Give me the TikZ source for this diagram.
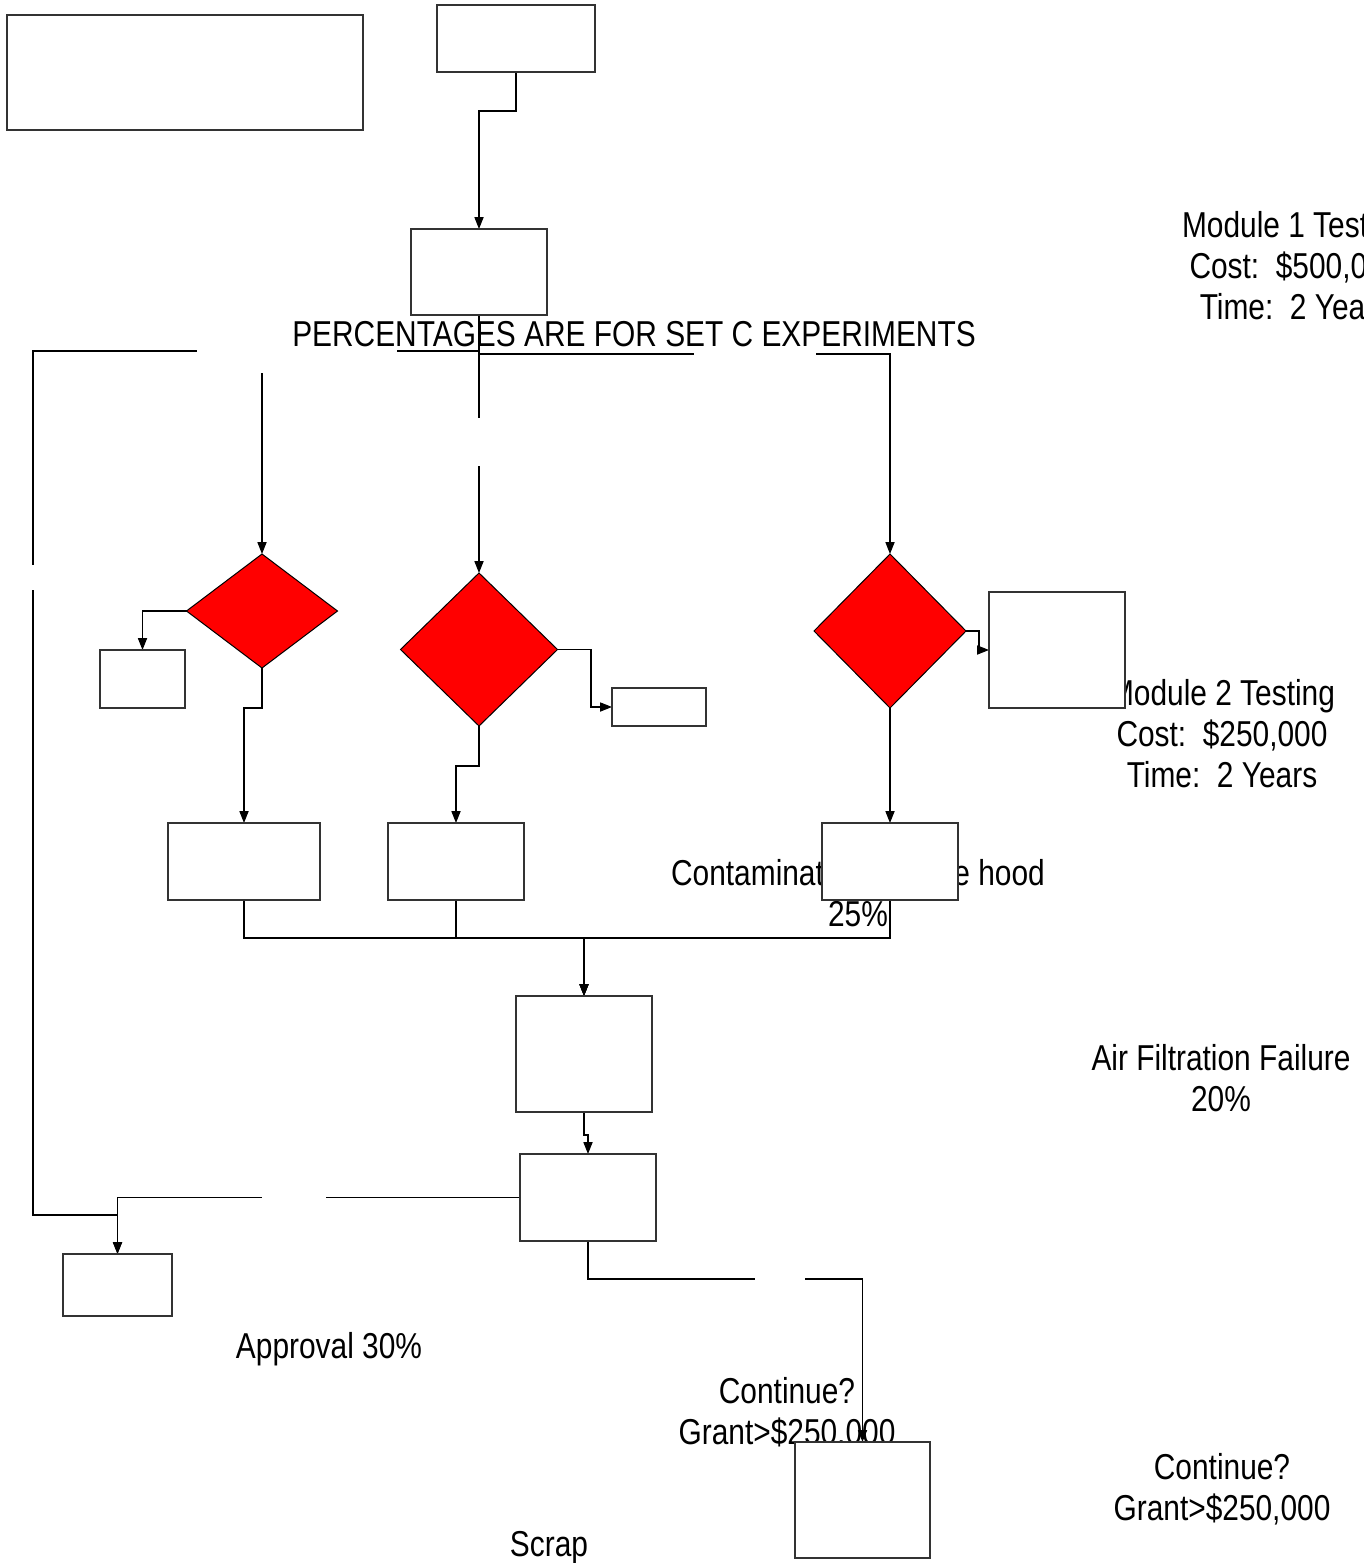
\documentclass[tikz,border=0pt]{standalone}
\usepackage{fontspec}
\setmainfont{Liberation Sans}
\usetikzlibrary{shapes.geometric,arrows.meta}
\pgfdeclarelayer{bg}
\pgfdeclarelayer{fg}
\pgfsetlayers{bg,main,fg}
\newcommand\rbox[6][box]{\node[#1, minimum width={(#5-#3)*0.5pt}, minimum height={(#6-#4)*0.5pt}] (#2) at ({(#3+#5)/2},{(#4+#6)/2}) {};}
\begin{document}
\begin{tikzpicture}[x=0.5pt,y=-0.5pt,
 box/.style={draw=black!80, fill=white, inner sep=0pt, outer sep=0pt, line width=0.55pt},
 dmd/.style={diamond, draw=black, fill=red, inner sep=0pt, outer sep=0pt, line width=0.5pt},
 conn/.style={line width=0.55pt},
 arr/.style={conn, -{Triangle[length=6pt,width=4.6pt]}},
 gapbox/.style={fill=white, draw=none, inner sep=0pt, outer sep=0pt},
 lbl/.style={font=\fontsize{18}{20.5}\selectfont, align=center, xscale=0.83, inner sep=0pt}]
\useasboundingbox (0,0) rectangle (1364,1563);

% ---------- boxes and diamonds (foreground) ----------
\begin{pgfonlayer}{fg}
\rbox{A}{7}{15}{363}{130}
\rbox{B}{437}{5}{595}{72}
\rbox{C}{411}{229}{547}{315}
\node[dmd, minimum width=75.5pt, minimum height=57pt] (D1) at (262,611) {};
\node[dmd, minimum width=78.5pt, minimum height=76.5pt] (D2) at (479,649.5) {};
\node[dmd, minimum width=76pt, minimum height=77pt] (D3) at (890,631) {};
\rbox{H1}{100}{650}{185}{708}
\rbox{H2}{612}{688}{706}{726}
\rbox{H3}{989}{592}{1125}{708}
\rbox{I1}{168}{823}{320}{900}
\rbox{I2}{388}{823}{524}{900}
\rbox{I3}{822}{823}{958}{900}
\rbox{E}{516}{996}{652}{1112}
\rbox{F}{520}{1154}{656}{1241}
\rbox{G}{63}{1254}{172}{1316}
\rbox{J}{795}{1442}{930}{1558}
\end{pgfonlayer}

% ---------- connectors (background) ----------
\begin{pgfonlayer}{bg}
\draw[arr] (B.south) -- (B.south |- 0,111) -| (C.north);
\draw[arr] (C.south) -- (C.south |- 0,351) -| (D1.north);
\draw[arr] (C.south) -- (D2.north);
\draw[arr] (C.south) -- (C.south |- 0,354) -| (D3.north);
\draw[arr] (C.south) -- (C.south |- 0,351) -| (33,1215) -| (G.north);
\draw[arr] (D1.west) -| (H1.north);
\draw[arr] (D1.south) -- (D1.south |- 0,708) -| (I1.north);
\draw[arr] (D2.east) -- (591,649.5) |- (H2.west);
\draw[arr] (D2.south) -- (D2.south |- 0,766) -| (I2.north);
\draw[arr] (D3.east) -- (979,631) |- (H3.west);
\draw[arr] (D3.south) -- (I3.north);
\draw[arr] (I1.south) -- (I1.south |- 0,938) -| (E.north);
\draw[arr] (I2.south) -- (I2.south |- 0,938) -| (E.north);
\draw[arr] (I3.south) -- (I3.south |- 0,938) -| (E.north);
\draw[arr] (E.south) -- (E.south |- 0,1135) -| (F.north);
\draw[arr] (F.west) -| (G.north);
\draw[arr] (F.south) -- (F.south |- 0,1279) -| (J.north);
% blank label areas breaking the connectors
\rbox[gapbox]{g1}{197}{340}{397}{373}
\rbox[gapbox]{g2}{694}{344}{816}{364}
\rbox[gapbox]{g3}{470}{418}{488}{466}
\rbox[gapbox]{g4}{24}{565}{42}{590}
\rbox[gapbox]{g5}{262}{1188}{326}{1206}
\rbox[gapbox]{g6}{755}{1270}{805}{1288}
\end{pgfonlayer}

% ---------- texts ----------
\node[lbl] (t1) at (634,334) {PERCENTAGES ARE FOR SET C EXPERIMENTS};
\node[lbl] (t2) at (1295,266) {Module 1 Testing\\Cost:\ \ \$500,000\\Time:\ \ 2 Years};
\node[lbl] (t3) at (1222,734) {Module 2 Testing\\Cost:\ \ \$250,000\\Time:\ \ 2 Years};
\node[lbl] (t4) at (858,893) {Contamination in fume hood\\25\%};
\node[lbl] (t5) at (1221,1078) {Air Filtration Failure\\20\%};
\node[lbl] (t6) at (329,1349) {Approval 30\%};
\node[lbl] (t7) at (787,1413) {Continue?\\Grant>\$250,000};
\node[lbl] (t8) at (1222,1489) {Continue?\\Grant>\$250,000};
\node[lbl] (t9) at (549,1548) {Scrap};
\end{tikzpicture}
\end{document}
